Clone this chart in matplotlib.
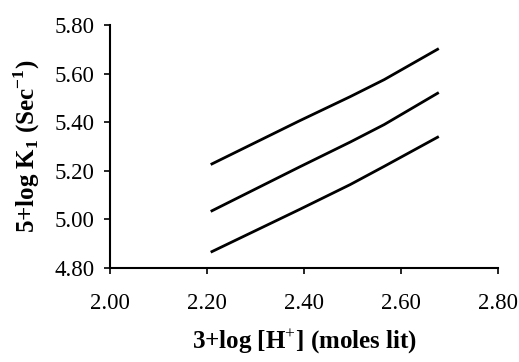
import matplotlib.pyplot as plt

plt.rcParams['font.family'] = ['Liberation Serif', 'DejaVu Serif']
plt.rcParams['mathtext.fontset'] = 'custom'
plt.rcParams['mathtext.rm'] = 'Liberation Serif'
plt.rcParams['mathtext.bf'] = 'Liberation Serif:bold'

# data
x = [2.21, 2.39, 2.495, 2.565, 2.675]
top = [5.228, 5.405, 5.505, 5.575, 5.70]
middle = [5.035, 5.215, 5.318, 5.39, 5.519]
bottom = [4.867, 5.04, 5.143, 5.218, 5.338]

xticks = [2.00, 2.20, 2.40, 2.60, 2.80]
yticks = [4.80, 5.00, 5.20, 5.40, 5.60, 5.80]

fig = plt.figure(figsize=(5.19, 3.62), dpi=100)
ax = fig.add_axes([0.212, 0.26, 0.748, 0.671])

for ys in (top, middle, bottom):
    ax.plot(x, ys, color='black', lw=2.0, solid_joinstyle='round')

ax.set_xlim(2.0, 2.8)
ax.set_ylim(4.8, 5.8)
ax.set_xticks(xticks)
ax.set_yticks(yticks)
ax.set_xticklabels(['%.2f' % v for v in xticks])
ax.set_yticklabels(['%.2f' % v for v in yticks])
ax.tick_params(labelsize=16.5, length=4, width=1.2, direction='out')
ax.tick_params(axis='x', pad=14)
ax.tick_params(axis='y', pad=7)
ax.spines['top'].set_visible(False)
ax.spines['right'].set_visible(False)
for s in ('left', 'bottom'):
    ax.spines[s].set_linewidth(1.5)

ax.set_xlabel('3+log [H$^{+}$] (moles lit)', fontsize=18, fontweight='bold', labelpad=9)
ax.set_ylabel(r'5+log K$_{\mathbf{1}}$ (Sec$^{\mathbf{-1}}$)', fontsize=18, fontweight='bold', labelpad=9)

fig.savefig('out.png', dpi=100)
